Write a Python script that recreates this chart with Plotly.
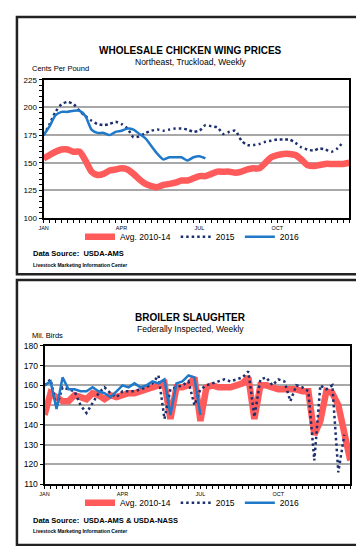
import plotly.graph_objects as go

W, H = 364, 546

# ---------------- data ----------------
month_ticks = [0, 13, 26, 39]
month_labels = ["JAN", "APR", "JUL", "OCT"]

wing_avg = [154, 157, 160, 162, 162, 160, 160, 152, 142, 139, 140, 143, 144, 145, 144, 140,
            135, 131, 129, 128, 130, 131, 132, 134, 134, 136, 138, 138, 140, 142, 142, 142,
            141, 142, 144, 145, 145, 150, 155, 157, 158, 158, 157, 153, 148, 147, 148, 149,
            149, 149, 149, 150]
wing_2015 = [175, 185, 196, 203, 205, 203, 197, 192, 188, 185, 184, 185, 187, 185, 181, 173,
             174, 177, 179, 180, 179, 180, 181, 181, 180, 178, 179, 184, 183, 182, 176, 178,
             179, 170, 166, 166, 167, 169, 170, 171, 171, 171, 168, 164, 162, 161, 163, 162,
             160, 163, 169]
wing_2016 = [175, 183, 193, 196, 196, 197, 197, 192, 180, 177, 177, 175, 178, 179, 181, 180,
             176, 172, 165, 158, 153, 155, 155, 155, 152, 155, 156, 154]

sl_avg = [145, 156, 154, 152, 152, 155, 154, 153, 156, 155, 153, 155, 154, 155, 156, 156,
          157, 158, 159, 160, 161, 143, 159, 159, 160, 164, 142, 159, 160, 159, 159, 159,
          160, 161, 164, 143, 160, 160, 159, 158, 158, 158, 158, 157, 157, 135, 142, 157,
          156, 150, 135, 122]
sl_2015 = [160, 163, 149, 159, 158, 157, 150, 146, 151, 156, 159, 156, 154, 157, 157, 157,
           158, 159, 161, 165, 143, 158, 159, 160, 162, 150, 158, 160, 161, 162, 163, 162,
           163, 164, 167, 144, 163, 164, 160, 163, 162, 152, 160, 159, 157, 122, 160, 158,
           160, 116, 135]
sl_2016 = [160, 162, 148, 164, 158, 158, 157, 157, 159, 157, 156, 154, 157, 160, 159, 161,
           159, 160, 162, 161, 163, 145, 161, 162, 165, 164, 145]

series_names = ["Avg. 2010-14", "2015", "2016"]

RED = "#FF5B5B"
NAVY = "#1B2F6E"
BLUE = "#1F78C8"
FONT = "Liberation Sans"


def px(x):
    return x / W


def py(y):
    return 1 - y / H


fig = go.Figure()


def add_series(xa, ya, data, legend, shape):
    avg, s15, s16 = data
    fig.add_trace(go.Scatter(x=list(range(len(avg))), y=avg, name=series_names[0],
                             mode="lines", xaxis=xa, yaxis=ya, legend=legend,
                             line=dict(color=RED, width=6.5, shape=shape, smoothing=0.6)))
    fig.add_trace(go.Scatter(x=list(range(len(s15))), y=s15, name=series_names[1],
                             mode="lines", xaxis=xa, yaxis=ya, legend=legend,
                             line=dict(color=NAVY, width=2.5, dash="2.5px,3px", shape=shape,
                                       smoothing=0.6)))
    fig.add_trace(go.Scatter(x=list(range(len(s16))), y=s16, name=series_names[2],
                             mode="lines", xaxis=xa, yaxis=ya, legend=legend,
                             line=dict(color=BLUE, width=2.5, shape=shape, smoothing=0.6)))


add_series("x", "y", (wing_avg, wing_2015, wing_2016), "legend", "spline")
add_series("x2", "y2", (sl_avg, sl_2015, sl_2016), "legend2", "linear")

xaxis_common = dict(
    range=[0, 51], tickmode="array", tickvals=month_ticks, ticktext=month_labels,
    ticks="outside", ticklen=3, tickwidth=1, tickcolor="black",
    minor=dict(dtick=1, tick0=0, ticks="outside", ticklen=3, tickcolor="black", showgrid=False),
    showgrid=False, showline=True, mirror=True, linecolor="black", linewidth=2,
    zeroline=False, tickfont=dict(family=FONT, size=5.5, color="black"),
    fixedrange=True,
)
yaxis_common = dict(
    showgrid=True, gridcolor="#A8A8A8", gridwidth=1.5, showline=True, mirror=True,
    linecolor="black", linewidth=2, zeroline=False, ticks="outside", ticklen=3,
    tickcolor="black", fixedrange=True,
)

fig.update_layout(
    width=W, height=H, margin=dict(l=0, r=0, t=0, b=0),
    paper_bgcolor="white", plot_bgcolor="white",
    font=dict(family=FONT, color="black"),
    xaxis=dict(domain=[px(31), px(341)], anchor="y", **xaxis_common),
    yaxis=dict(domain=[py(209), py(68)], anchor="x", range=[100, 225], dtick=25,
               minor=dict(dtick=5, ticks="outside", ticklen=3, tickcolor="black", showgrid=False),
               tickfont=dict(family=FONT, size=8, color="black"), **yaxis_common),
    xaxis2=dict(domain=[px(32), px(342)], anchor="y2", **xaxis_common),
    yaxis2=dict(domain=[py(480), py(339)], anchor="x2", range=[110, 180], dtick=10,
                tickfont=dict(family=FONT, size=8.5, color="black"), **yaxis_common),
    legend=dict(orientation="h", x=0.5, xanchor="center", y=py(228), yanchor="middle",
                font=dict(family=FONT, size=8.5, color="black"), itemwidth=30,
                bgcolor="rgba(0,0,0,0)", tracegroupgap=0),
    legend2=dict(orientation="h", x=0.5, xanchor="center", y=py(499), yanchor="middle",
                 font=dict(family=FONT, size=8.5, color="black"), itemwidth=30,
                 bgcolor="rgba(0,0,0,0)", tracegroupgap=0),
)

# panel borders
for y0, y1 in [(4, 266), (272, 542)]:
    fig.add_shape(type="rect", xref="paper", yref="paper", x0=px(4), x1=px(357),
                  y0=py(y1), y1=py(y0), line=dict(color="#222", width=2.5))


def note(text, x, y, size, xanchor="center", bold=False):
    fig.add_annotation(text=f"<b>{text}</b>" if bold else text, x=px(x), y=py(y),
                       xref="paper", yref="paper", xanchor=xanchor, yanchor="middle",
                       showarrow=False, font=dict(family=FONT, size=size, color="black"))


note("WHOLESALE CHICKEN WING PRICES", 180, 38, 10, bold=True)
note("Northeast, Truckload, Weekly", 180, 50, 8.5)
note("Cents Per Pound", 17, 57, 7.5, xanchor="left")
note("Data Source:  USDA-AMS", 18, 245, 7.5, xanchor="left", bold=True)
note("Livestock Marketing Information Center", 18, 257, 5, xanchor="left", bold=True)

note("BROILER SLAUGHTER", 180, 310, 10, bold=True)
note("Federally Inspected, Weekly", 180, 322, 8.5)
note("Mil. Birds", 17, 329, 7.5, xanchor="left")
note("Data Source:  USDA-AMS & USDA-NASS", 18, 517, 7.5, xanchor="left", bold=True)
note("Livestock Marketing Information Center", 18, 528, 5, xanchor="left", bold=True)

fig.write_html("out.html")
